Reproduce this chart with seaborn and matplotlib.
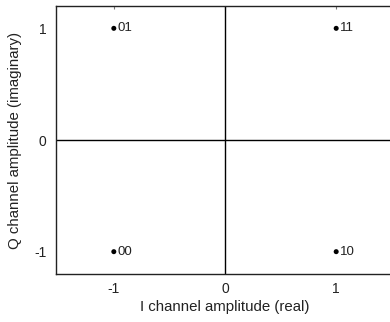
import matplotlib
matplotlib.use("Agg")
import matplotlib.pyplot as plt
import seaborn as sns
import pandas as pd

# Data
i_vals = [-1, 1, -1, 1]
q_vals = [1, 1, -1, -1]
symbols = ["01", "11", "00", "10"]
x_ticks = [-1, 0, 1]
y_ticks = [-1, 0, 1]

sns.set_style("white")
plt.rcParams['font.family'] = ['Liberation Sans', 'DejaVu Sans']

df = pd.DataFrame({"I": i_vals, "Q": q_vals, "sym": symbols})

fig = plt.figure(figsize=(3.9, 3.22), dpi=100)
ax = fig.add_axes([56/390, 48/322, 338/390, 268/322])

ax.axhline(0, color="black", lw=1.0, zorder=1)
ax.axvline(0, color="black", lw=1.0, zorder=1)

sns.scatterplot(data=df, x="I", y="Q", ax=ax, color="black", s=13,
                edgecolor="none", zorder=3, legend=False)
for xi, yi, lab in zip(df["I"], df["Q"], df["sym"]):
    ax.annotate(lab, (xi, yi), xytext=(2.5, 0), textcoords="offset points",
                ha="left", va="center", fontsize=9.5, color="#222222")

ax.set_xlim(-1.52, 1.52)
ax.set_ylim(-1.2, 1.2)
ax.set_xticks(x_ticks)
ax.set_yticks(y_ticks)
ax.set_xticklabels([str(v) for v in x_ticks])
ax.set_yticklabels([str(v) for v in y_ticks])
ax.tick_params(direction="in", length=2.5, width=0.8, color="#777777",
               labelsize=10, top=True, right=True, labelcolor="#222222")
ax.tick_params(axis="x", pad=6)
ax.tick_params(axis="y", pad=7)
for s in ax.spines.values():
    s.set_color("#222222")
    s.set_linewidth(1.0)

ax.set_xlabel("I channel amplitude (real)", fontsize=10.8, color="#222222", labelpad=3)
ax.set_ylabel("Q channel amplitude (imaginary)", fontsize=10.8, color="#222222", labelpad=9)

fig.savefig("out.png", dpi=100)
